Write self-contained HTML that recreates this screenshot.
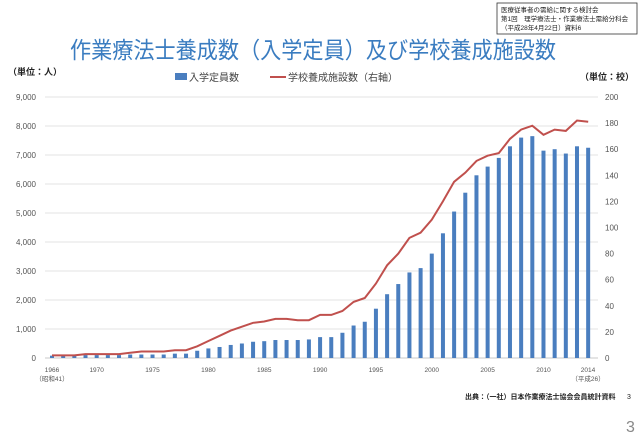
<!DOCTYPE html><html><head><meta charset="utf-8"><style>body{margin:0;background:#fff}svg{display:block;font-family:"Liberation Sans","Noto Sans CJK JP",sans-serif}</style></head><body>
<svg width="640" height="435" viewBox="0 0 640 435" xmlns="http://www.w3.org/2000/svg">
<rect x="497" y="3" width="140" height="31" fill="#fff" stroke="#333" stroke-width="0.8"/>
<text x="501" y="12" font-size="6.5" fill="#222">医療従事者の需給に関する検討会</text>
<text x="501" y="21" font-size="6.5" fill="#222">第1回　理学療法士・作業療法士需給分科会</text>
<text x="501" y="30" font-size="6.5" fill="#222">（平成28年4月22日）資料6</text>
<text x="70" y="58" font-size="23" fill="#3a7cc0" textLength="486" lengthAdjust="spacingAndGlyphs">作業療法士養成数（入学定員）及び学校養成施設数</text>
<text x="8" y="75" font-size="9" font-weight="bold" fill="#222">（単位：人）</text>
<text x="634" y="80" font-size="9" font-weight="bold" fill="#222" text-anchor="end">（単位：校）</text>
<rect x="175" y="73" width="12" height="7" fill="#4a7ebf"/>
<text x="189" y="81" font-size="10" fill="#444">入学定員数</text>
<line x1="270" y1="77" x2="286" y2="77" stroke="#c0504d" stroke-width="2"/>
<text x="288" y="81" font-size="10" fill="#444">学校養成施設数（右軸）</text>
<text x="465" y="399" font-size="7" font-weight="bold" fill="#222">出典：（一社）日本作業療法士協会会員統計資料</text>
<text x="627" y="399" font-size="7" fill="#222">3</text>
<text x="626" y="432" font-size="16" fill="#888">3</text>
<text x="52" y="372" font-size="6.5" fill="#555" text-anchor="middle">1966</text>
<text x="52" y="381" font-size="6.5" fill="#555" text-anchor="middle">（昭和41）</text>
<text x="588" y="372" font-size="6.5" fill="#555" text-anchor="middle">2014</text>
<text x="588" y="381" font-size="6.5" fill="#555" text-anchor="middle">（平成26）</text>
</svg>
<script>
const s=document.querySelector('svg'),NS='http://www.w3.org/2000/svg';
function el(t,a,txt){const e=document.createElementNS(NS,t);for(const k in a)e.setAttribute(k,a[k]);if(txt!=null)e.textContent=txt;s.appendChild(e);return e}
const y0=358,y1=97,X=y=>52+(y-1966)*11.17;
for(let i=0;i<=9;i++){const y=y0-(y0-y1)*i/9;el('line',{x1:45,x2:598,y1:y,y2:y,stroke:i?'#e3e3e3':'#c8c8c8','stroke-width':1});
el('text',{x:36,y:y+3,'font-size':8,fill:'#555','text-anchor':'end'},(i*1000).toLocaleString('en-US'));}
for(let i=0;i<=10;i++){const y=y0-(y0-y1)*i/10;el('text',{x:605,y:y+3,'font-size':8,fill:'#555'},String(i*20));}
const b=[80,80,100,100,100,100,100,120,120,120,120,150,150,250,330,380,450,500,560,580,620,620,620,640,720,720,870,1120,1250,1700,2200,2550,2950,3100,3600,4300,5050,5700,6300,6600,6900,7300,7600,7650,7150,7200,7050,7300,7250];
const l=[2,2,2,3,3,3,3,4,5,5,5,6,6,9,13,17,21,24,27,28,30,30,29,29,33,33,36,43,46,57,71,80,92,96,106,120,135,142,151,155,157,168,175,178,171,175,174,182,181];
let p='';
b.forEach((v,i)=>{const x=X(1966+i),h=v*(y0-y1)/9000;el('rect',{x:x-2,y:y0-h,width:4,height:h,fill:'#4a7ebf'});
p+=(i?'L':'M')+x.toFixed(1)+','+(y0-l[i]*(y0-y1)/200).toFixed(1);});
el('path',{d:p,fill:'none',stroke:'#c0504d','stroke-width':2});
[1970,1975,1980,1985,1990,1995,2000,2005,2010].forEach(y=>el('text',{x:X(y),y:372,'font-size':6.5,fill:'#555','text-anchor':'middle'},String(y)));
</script>
</body></html>
